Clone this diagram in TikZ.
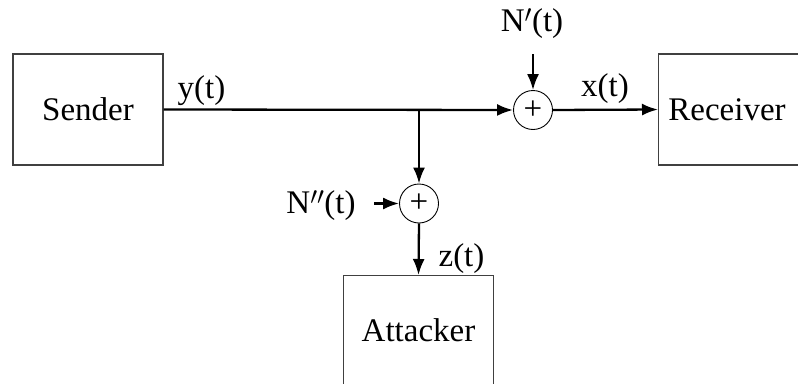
\documentclass[tikz,border=0pt]{standalone}
\usepackage{fontspec}
\setmainfont{Liberation Serif}
\usetikzlibrary{arrows.meta}
\begin{document}
\begin{tikzpicture}[x=1pt,y=-1pt,
  every node/.style={font=\fontsize{33}{40}\selectfont},
  blockbox/.style={draw=black!75,line width=1.2pt,rectangle,minimum width=150pt,minimum height=111pt,inner sep=0pt},
  sumnode/.style={draw=black,line width=0.9pt,circle,minimum size=39pt,inner sep=0pt},
  sig/.style={line width=2.3pt,-{Latex[length=16pt,width=12pt]}},
  lbl/.style={inner sep=0pt}]
\useasboundingbox (0,0) rectangle (798,383);
\clip (0,0) rectangle (798,383);
\node[blockbox] (sender) at (88,109.5) {Sender};
\node[blockbox,anchor=west] (receiver) at (658,109.5) {};
\node[lbl] (receiverlabel) at (727,110) {Receiver};
\node[blockbox,anchor=north] (attacker) at (418.5,275) {};
\node[lbl] (attackerlabel) at (418.5,330) {Attacker};
\node[sumnode] (sum1) at (533,110) {+};
\node[sumnode] (sum2) at (419,203.5) {+};
\coordinate (branch) at (419,110);
\node[lbl] (np) at (532,23.5) {N$'$(t)};
\coordinate (npstart) at (533,54);
\node[lbl] (npp) at (321,206) {N$''$(t)};
\coordinate (nppstart) at (374,203.5);
\node[lbl] (ylbl) at (201.5,91) {y(t)};
\node[lbl] (xlbl) at (605,89) {x(t)};
\node[lbl] (zlbl) at (461.5,259) {z(t)};
\draw[sig] (sender.east) -- (sum1.west);
\draw[sig] (branch) -- (sum2.north);
\draw[sig] (npstart) -- (sum1.north);
\draw[sig] (sum1.east) -- (receiver.west);
\draw[sig] (nppstart) -- (sum2.west);
\draw[sig] (sum2.south) -- (attacker.north);
\end{tikzpicture}
\end{document}
